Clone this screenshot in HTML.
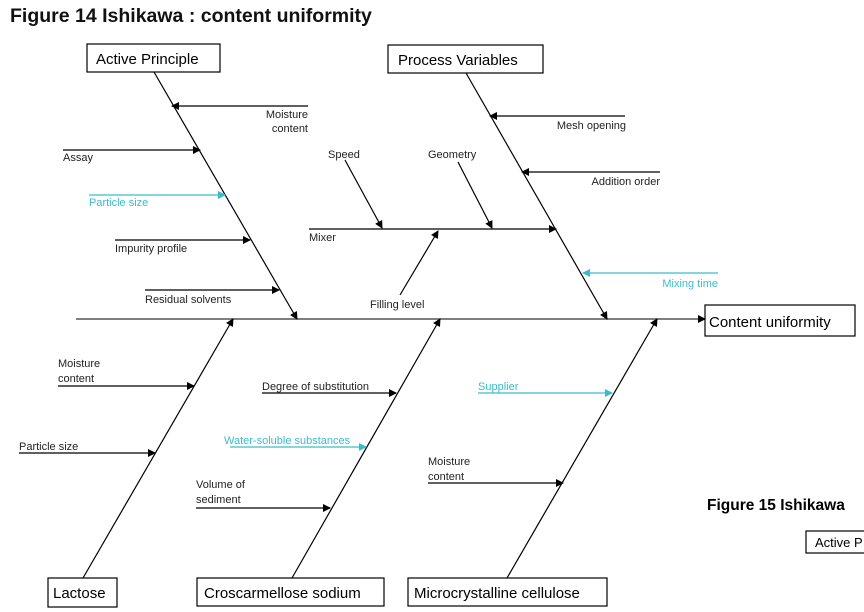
<!DOCTYPE html>
<html><head><meta charset="utf-8"><style>
body{margin:0;background:#fff;}
svg{display:block;font-family:"Liberation Sans",Arial,sans-serif;}
.s{font-size:11px;fill:#222}
.c{font-size:11px;fill:#3bbccb}
.b{font-size:15px;fill:#000}
</style></head><body>
<svg width="864" height="612" viewBox="0 0 864 612">
<defs>
<marker id="a" markerWidth="8" markerHeight="8" refX="7" refY="4" orient="auto" markerUnits="userSpaceOnUse"><path d="M0,0 L8,4 L0,8z" fill="#000"/></marker>
<marker id="ac" markerWidth="8" markerHeight="8" refX="7" refY="4" orient="auto" markerUnits="userSpaceOnUse"><path d="M0,0 L8,4 L0,8z" fill="#3bbccb"/></marker>
</defs>
<text x="10" y="22" style="font-size:19.5px;font-weight:bold" fill="#111">Figure 14 Ishikawa : content uniformity</text>
<g stroke="#000" stroke-width="1.2" fill="none">
<line x1="76" y1="319" x2="705" y2="319" stroke="#555" stroke-width="1.6" marker-end="url(#a)"/>
<line x1="154" y1="72" x2="297" y2="319" marker-end="url(#a)"/>
<line x1="466" y1="73" x2="607" y2="319" marker-end="url(#a)"/>
<line x1="83" y1="578" x2="233" y2="319" marker-end="url(#a)"/>
<line x1="292" y1="578" x2="440" y2="319" marker-end="url(#a)"/>
<line x1="507" y1="578" x2="657" y2="319" marker-end="url(#a)"/>
<line x1="308" y1="106" x2="172" y2="106" marker-end="url(#a)"/>
<line x1="63" y1="150" x2="200" y2="150" marker-end="url(#a)"/>
<line x1="89" y1="195" x2="225" y2="195" stroke="#3bbccb" marker-end="url(#ac)"/>
<line x1="115" y1="240" x2="250" y2="240" marker-end="url(#a)"/>
<line x1="145" y1="290" x2="279" y2="290" marker-end="url(#a)"/>
<line x1="625" y1="116" x2="490" y2="116" marker-end="url(#a)"/>
<line x1="660" y1="172" x2="522" y2="172" marker-end="url(#a)"/>
<line x1="718" y1="273" x2="583" y2="273" stroke="#3bbccb" marker-end="url(#ac)"/>
<line x1="309" y1="229" x2="556" y2="229" marker-end="url(#a)"/>
<line x1="345" y1="160" x2="382" y2="228" marker-end="url(#a)"/>
<line x1="458" y1="162" x2="492" y2="228" marker-end="url(#a)"/>
<line x1="400" y1="295" x2="438" y2="231" marker-end="url(#a)"/>
<line x1="58" y1="386" x2="194" y2="386" marker-end="url(#a)"/>
<line x1="19" y1="453" x2="155" y2="453" marker-end="url(#a)"/>
<line x1="262" y1="393" x2="396" y2="393" marker-end="url(#a)"/>
<line x1="230" y1="447" x2="366" y2="447" stroke="#3bbccb" marker-end="url(#ac)"/>
<line x1="196" y1="508" x2="330" y2="508" marker-end="url(#a)"/>
<line x1="478" y1="393" x2="612" y2="393" stroke="#3bbccb" marker-end="url(#ac)"/>
<line x1="428" y1="483" x2="563" y2="483" marker-end="url(#a)"/>
<rect x="87" y="44" width="133" height="28"/>
<rect x="388" y="45" width="155" height="28"/>
<rect x="705" y="305" width="150" height="31"/>
<rect x="48" y="578" width="69" height="29"/>
<rect x="197" y="578" width="187" height="28"/>
<rect x="408" y="578" width="199" height="28"/>
<rect x="806" y="531" width="70" height="22"/>
</g>
<text x="96" y="64" class="b">Active Principle</text>
<text x="398" y="65" class="b">Process Variables</text>
<text x="709" y="327" class="b">Content uniformity</text>
<text x="53" y="598" class="b">Lactose</text>
<text x="204" y="598" class="b">Croscarmellose sodium</text>
<text x="414" y="598" class="b">Microcrystalline cellulose</text>
<text x="707" y="510" style="font-size:15.5px;font-weight:bold">Figure 15 Ishikawa</text>
<text x="815" y="547" style="font-size:13px">Active P</text>
<g class="s">
<text x="308" y="118" text-anchor="end" class="s">Moisture</text>
<text x="308" y="132" text-anchor="end" class="s">content</text>
<text x="63" y="161" class="s">Assay</text>
<text x="115" y="252" class="s">Impurity profile</text>
<text x="145" y="303" class="s">Residual solvents</text>
<text x="626" y="129" text-anchor="end" class="s">Mesh opening</text>
<text x="660" y="185" text-anchor="end" class="s">Addition order</text>
<text x="309" y="241" class="s">Mixer</text>
<text x="328" y="158" class="s">Speed</text>
<text x="428" y="158" class="s">Geometry</text>
<text x="370" y="308" class="s">Filling level</text>
<text x="58" y="367" class="s">Moisture</text>
<text x="58" y="382" class="s">content</text>
<text x="19" y="450" class="s">Particle size</text>
<text x="262" y="390" class="s">Degree of substitution</text>
<text x="196" y="488" class="s">Volume of</text>
<text x="196" y="503" class="s">sediment</text>
<text x="428" y="465" class="s">Moisture</text>
<text x="428" y="480" class="s">content</text>
</g>
<text x="89" y="206" class="c">Particle size</text>
<text x="718" y="287" text-anchor="end" class="c">Mixing time</text>
<text x="224" y="444" class="c">Water-soluble substances</text>
<text x="478" y="390" class="c">Supplier</text>
</svg>
</body></html>
